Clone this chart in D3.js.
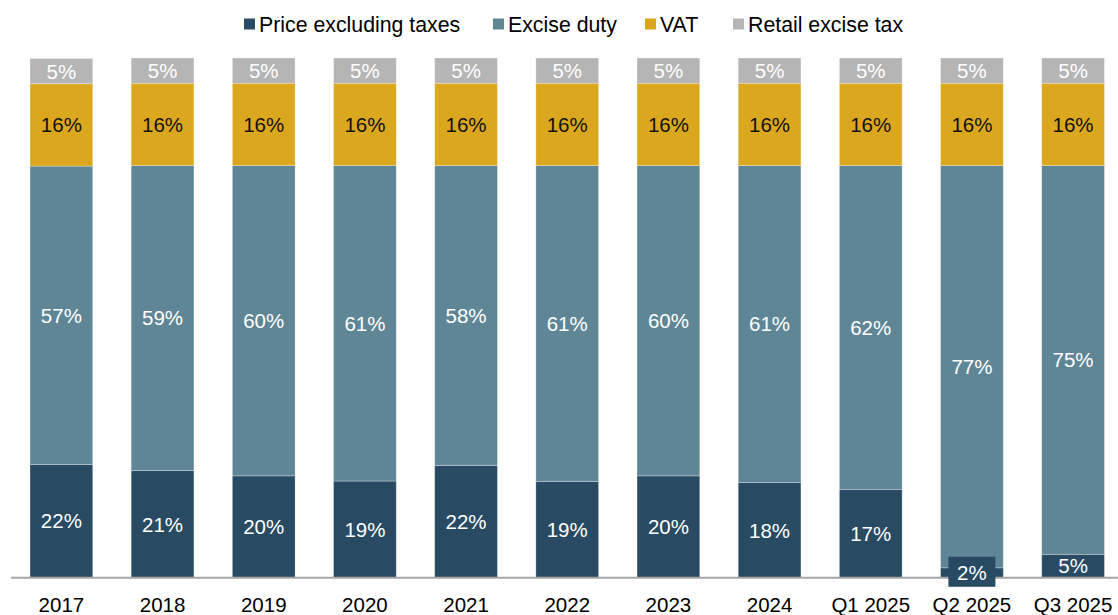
<!DOCTYPE html>
<html>
<head>
<meta charset="utf-8">
<script src="https://cdn.jsdelivr.net/npm/d3@7"></script>
<style>
  body { margin: 0; background: #fff; }
  svg { display: block; font-family: Arial, "Liberation Sans", sans-serif; }
</style>
</head>
<body>
<div id="app"></div>
<script>
const WIDTH = 1118
const HEIGHT = 615

const periods = ['2017', '2018', '2019', '2020', '2021', '2022', '2023', '2024', 'Q1 2025', 'Q2 2025', 'Q3 2025']
const priceExTax = [21.8, 20.6, 19.6, 18.6, 21.6, 18.5, 19.6, 18.3, 17.0, 1.9, 4.5]
const exciseDuty = [57.4, 58.7, 59.7, 60.7, 57.7, 60.8, 59.7, 61.0, 62.3, 77.4, 74.8]
const vat = [15.85, 15.85, 15.85, 15.85, 15.85, 15.85, 15.85, 15.85, 15.85, 15.85, 15.85]
const retailExcise = [4.85, 4.85, 4.85, 4.85, 4.85, 4.85, 4.85, 4.85, 4.85, 4.85, 4.85]

const seriesNames = ['Price excluding taxes', 'Excise duty', 'VAT', 'Retail excise tax']
const seriesKeys = ['price', 'excise', 'vat', 'retail']
const seriesColors = ['#284b63', '#5f8696', '#dba71f', '#b5b5b5']
const labelColors = ['#ffffff', '#ffffff', '#111111', '#ffffff']

const rows = periods.map((p, i) => ({
  period: p,
  price: priceExTax[i],
  excise: exciseDuty[i],
  vat: vat[i],
  retail: retailExcise[i]
}))

const stack = d3.stack().keys(seriesKeys)
const layers = stack(rows)

const x = d3.scaleBand()
  .domain(periods)
  .range([10.8, 10.8 + 101.17 * periods.length])
  .paddingInner(0.38)
  .paddingOuter(0.19)

const y = d3.scaleLinear()
  .domain([0, 100])
  .range([577.7, 58])

const svg = d3.select('#app').append('svg')
  .attr('width', WIDTH)
  .attr('height', HEIGHT)

// bars
const layer = svg.selectAll('.layer')
  .data(layers)
  .enter().append('g')
  .attr('class', 'layer')
  .attr('fill', (d, i) => seriesColors[i])

layer.selectAll('rect')
  .data(d => d)
  .enter().append('rect')
  .attr('x', d => x(d.data.period))
  .attr('y', d => y(d[1]))
  .attr('width', x.bandwidth())
  .attr('height', d => y(d[0]) - y(d[1]))
  .attr('stroke', '#ffffff')
  .attr('stroke-opacity', 0.35)
  .attr('stroke-width', 0.8)

// axis baseline
svg.append('line')
  .attr('x1', 11)
  .attr('x2', WIDTH)
  .attr('y1', y(0))
  .attr('y2', y(0))
  .attr('stroke', '#a6a6a6')
  .attr('stroke-width', 2)

const xAxis = d3.axisBottom(x).tickSize(0).tickPadding(0)
const gx = svg.append('g')
  .attr('transform', 'translate(0,' + y(0) + ')')
  .call(xAxis)
gx.select('.domain').remove()
gx.selectAll('text')
  .attr('y', 34)
  .attr('dy', 0)
  .attr('font-size', 20.5)
  .attr('font-family', 'Arial, "Liberation Sans", sans-serif')
  .attr('fill', '#000')

// segment labels
layers.forEach((l, si) => {
  const g = svg.append('g')
  l.forEach(d => {
    const cx = x(d.data.period) + x.bandwidth() / 2
    const cy = (y(d[0]) + y(d[1])) / 2
    const txt = Math.round(d[1] - d[0]) + '%'
    const small = (y(d[0]) - y(d[1])) < 20
    if (small) {
      // filled label box for the tiny segment
      g.append('rect')
        .attr('x', cx - 23.5)
        .attr('y', cy - 16)
        .attr('width', 47)
        .attr('height', 30)
        .attr('fill', seriesColors[si])
    }
    g.append('text')
      .attr('x', cx)
      .attr('y', cy)
      .attr('dy', '0.36em')
      .attr('text-anchor', 'middle')
      .attr('font-size', 20.5)
      .attr('fill', labelColors[si])
      .text(txt)
  })
})

// legend
const legendX = [244, 493, 645, 733]
const legend = svg.append('g')
seriesNames.forEach((name, i) => {
  legend.append('rect')
    .attr('x', legendX[i])
    .attr('y', 18.5)
    .attr('width', 11)
    .attr('height', 11)
    .attr('fill', seriesColors[i])
  legend.append('text')
    .attr('x', legendX[i] + 15)
    .attr('y', 31.5)
    .attr('font-size', 21.3)
    .attr('fill', '#000')
    .text(name)
})
</script>
</body>
</html>
